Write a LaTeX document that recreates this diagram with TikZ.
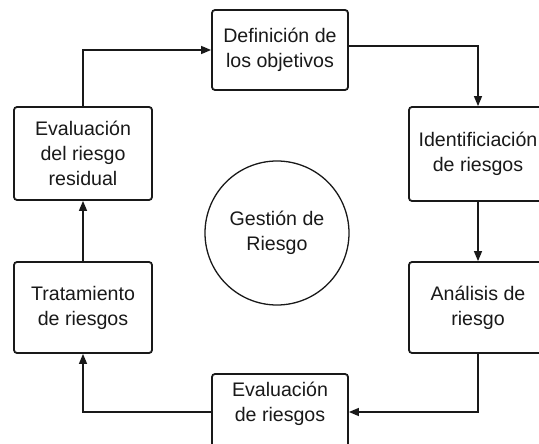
\documentclass[tikz,border=0pt]{standalone}
\usepackage{fontspec}
\setmainfont{Liberation Sans}
\usetikzlibrary{arrows.meta}
\begin{document}
\begin{tikzpicture}[x=1pt,y=-1pt,
  stepbox/.style={draw=black!90, line width=1.8pt, rounded corners=3pt, align=center,
    font=\fontsize{19.6}{25}\selectfont, text=black!90, inner sep=0pt},
  labeltext/.style={align=center, font=\fontsize{19.6}{25}\selectfont, text=black!90, inner sep=0pt},
  arr/.style={draw=black!90, line width=1.3pt, -{Triangle[length=10pt,width=8pt]}},
  conn/.style={draw=black!90, line width=1.3pt}]
\clip (0,0) rectangle (539,444);
\fill[white] (0,0) rectangle (539,444);
\node[stepbox, minimum width=136pt, minimum height=80pt] (def) at (280,50) {Definición de\\los objetivos};
\node[stepbox, minimum width=138pt, minimum height=94pt] (ident) at (478,154) {Identificiación\\de riesgos};
\node[stepbox, minimum width=138pt, minimum height=91pt] (ana) at (478,307.5) {Análisis de\\riesgo};
\node[stepbox, minimum width=136pt, minimum height=80pt] (evalr) at (280,414) {};
\node[labeltext] (evalrtext) at (280,404) {Evaluación\\de riesgos};
\node[stepbox, minimum width=138pt, minimum height=91pt] (trat) at (83,307.5) {Tratamiento\\de riesgos};
\node[stepbox, minimum width=138pt, minimum height=93pt] (evres) at (83,153.5) {Evaluación\\del riesgo\\residual};
\node[circle, draw=black!90, line width=1.3pt, minimum size=144pt, labeltext] (gest) at (277,233) {Gestión de\\Riesgo};
\draw[arr] (evres.north) |- (def.west);
\draw[arr] ([yshift=4pt]def.east) -| (ident.north);
\draw[arr] (ident.south) -- (ana.north);
\draw[arr] (ana.south) |- ([yshift=2pt]evalr.east);
\draw[arr] ([yshift=2pt]evalr.west) -| (trat.south);
\draw[arr] (trat.north) -- (evres.south);
\end{tikzpicture}
\end{document}
